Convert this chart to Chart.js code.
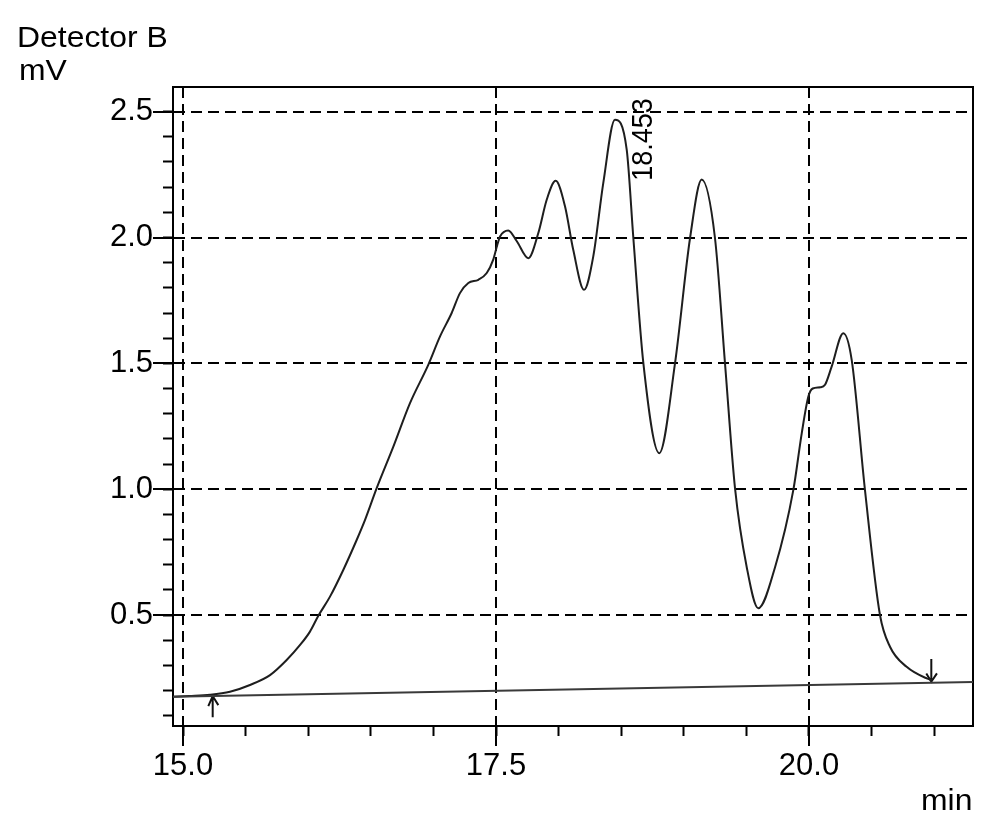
<!DOCTYPE html>
<html>
<head>
<meta charset="utf-8">
<style>
html,body{margin:0;padding:0;background:#fff;}
#wrap{width:999px;height:833px;position:relative;}
</style>
<script src="https://cdn.jsdelivr.net/npm/chart.js@4/dist/chart.umd.min.js"></script>
</head>
<body>
<div id="wrap"><canvas id="c" width="999" height="833"></canvas></div>
<script>
// ---- data ----
const timeMin = [14.92, 15.05, 15.216, 15.375, 15.535, 15.695, 15.828, 15.935, 16.014, 16.081, 16.174, 16.280, 16.387, 16.454, 16.547, 16.680, 16.813, 16.959, 17.053, 17.146, 17.212, 17.279, 17.359, 17.426, 17.478, 17.51, 17.532, 17.598, 17.665, 17.758, 17.838, 17.905, 17.977, 18.051, 18.117, 18.203, 18.277, 18.357, 18.450, 18.544, 18.597, 18.677, 18.804, 18.930, 19.050, 19.143, 19.249, 19.329, 19.409, 19.502, 19.595, 19.73, 19.875, 19.942, 19.995, 20.03, 20.09, 20.128, 20.181, 20.274, 20.341, 20.447, 20.567, 20.647, 20.780, 20.940, 20.980];
const signalMv = [0.175, 0.178, 0.183, 0.195, 0.222, 0.261, 0.321, 0.381, 0.434, 0.497, 0.573, 0.679, 0.798, 0.878, 1.004, 1.169, 1.342, 1.494, 1.607, 1.700, 1.779, 1.819, 1.832, 1.859, 1.912, 1.970, 2.004, 2.028, 1.986, 1.918, 2.018, 2.150, 2.225, 2.124, 1.951, 1.792, 1.925, 2.217, 2.468, 2.349, 1.998, 1.501, 1.143, 1.501, 1.998, 2.230, 1.998, 1.501, 1.004, 0.692, 0.527, 0.692, 0.997, 1.222, 1.368, 1.400, 1.405, 1.415, 1.487, 1.620, 1.514, 0.997, 0.500, 0.374, 0.294, 0.248, 0.242];

const baselineTime = [14.92, 21.31];
const baselineMv = [0.175, 0.234];

// integration start / end markers (arrows)
const startArrowTime = [15.237, 15.237, null, 15.202, 15.237, 15.282];
const startArrowMv   = [0.094, 0.178, null, 0.138, 0.178, 0.142];
const endArrowTime   = [20.977, 20.977, null, 20.937, 20.977, 21.022];
const endArrowMv     = [0.325, 0.235, null, 0.268, 0.235, 0.268];

const peakTime = 18.453;
const peakMv = 2.468;
const peakLabel = '18.453';

const xRange = [14.92, 21.31];
const yRange = [0.059, 2.598];
const xMajorTicks = [15.0, 17.5, 20.0];
const xMinorTicks = [15.0, 15.5, 16.0, 16.5, 17.0, 17.5, 18.0, 18.5, 19.0, 19.5, 20.0, 20.5, 21.0];
const yMajorTicks = [0.5, 1.0, 1.5, 2.0, 2.5];
const yMinorTicks = [0.1, 0.2, 0.3, 0.4, 0.5, 0.6, 0.7, 0.8, 0.9, 1.0, 1.1, 1.2, 1.3, 1.4, 1.5, 1.6, 1.7, 1.8, 1.9, 2.0, 2.1, 2.2, 2.3, 2.4, 2.5];

const yTitleLines = ['Detector B', 'mV'];
const xTitle = 'min';

// ---- build ----
const zip = (xs, ys) => xs.map((x, i) => ({x: x, y: ys[i]}));
const FAMILY = "'Liberation Sans', Arial, Helvetica, sans-serif";
const TICK_FONT = {family: FAMILY, size: 31};
const setTicks = arr => scale => { scale.ticks = arr.map(v => ({value: v})); };

Chart.defaults.color = '#000';
Chart.defaults.font.family = FAMILY;

const textPlugin = {
  id: 'texts',
  afterDraw(chart) {
    const ctx = chart.ctx;
    const put = (txt, x, y) => {
      ctx.save();
      ctx.translate(x, y);
      ctx.scale(1.1, 1);
      ctx.fillText(txt, 0, 0);
      ctx.restore();
    };
    ctx.save();
    ctx.fillStyle = '#000';
    ctx.font = '29px ' + FAMILY;
    ctx.textAlign = 'left';
    ctx.textBaseline = 'alphabetic';
    put(yTitleLines[0], 17, 47);
    put(yTitleLines[1], 19, 80);
    put(xTitle, 921, 810);
    // rotated peak label
    const xs = chart.scales.x, ys = chart.scales.y;
    const px = xs.getPixelForValue(peakTime);
    const py = ys.getPixelForValue(peakMv);
    ctx.translate(px + 37, py + 61);
    ctx.rotate(-Math.PI / 2);
    ctx.scale(1, 1.1);
    ctx.font = '27px ' + FAMILY;
    ctx.fillText(peakLabel, 0, 0);
    ctx.restore();
  }
};

const lineDs = (data, color, width) => ({
  type: 'line', data: data, borderColor: color, borderWidth: width,
  pointRadius: 0, fill: false, spanGaps: false, tension: 0,
  xAxisID: 'x', yAxisID: 'y'
});

new Chart(document.getElementById('c'), {
  type: 'line',
  data: {
    datasets: [
      lineDs(zip(baselineTime, baselineMv), '#3a3a3a', 2),
      Object.assign(lineDs(zip(timeMin, signalMv), '#1e1e1e', 2), {cubicInterpolationMode: 'monotone'}),
      lineDs(zip(startArrowTime, startArrowMv), '#111', 2),
      lineDs(zip(endArrowTime, endArrowMv), '#111', 2)
    ]
  },
  options: {
    responsive: false,
    animation: false,
    devicePixelRatio: 1,
    layout: {padding: {left: 0, top: 87, right: 26, bottom: 0}},
    plugins: {legend: {display: false}, tooltip: {enabled: false}},
    scales: {
      x: {
        type: 'linear', position: 'bottom', min: xRange[0], max: xRange[1], weight: 1,
        afterBuildTicks: setTicks(xMajorTicks),
        afterFit: s => { s.height = 107; },
        grid: {color: '#000', lineWidth: 2, tickLength: 20, tickWidth: 2, tickColor: '#000'},
        border: {display: true, color: '#000', width: 2, dash: [11, 6]},
        ticks: {font: TICK_FONT, color: '#000', padding: 2, maxRotation: 0, autoSkip: false,
                callback: v => Number(v).toFixed(1)}
      },
      xMinor: {
        type: 'linear', position: 'bottom', min: xRange[0], max: xRange[1], weight: 0,
        afterBuildTicks: setTicks(xMinorTicks),
        afterFit: s => { s.height = 0; },
        grid: {drawOnChartArea: false, tickLength: 10, tickWidth: 2, tickColor: '#000', color: '#000'},
        border: {display: false},
        ticks: {display: false}
      },
      xTop: {
        type: 'linear', position: 'top', min: xRange[0], max: xRange[1],
        afterFit: s => { s.height = 0; },
        grid: {display: false},
        border: {display: true, color: '#000', width: 2},
        ticks: {display: false}
      },
      y: {
        type: 'linear', position: 'left', min: yRange[0], max: yRange[1], weight: 1,
        afterBuildTicks: setTicks(yMajorTicks),
        afterFit: s => { s.width = 173; },
        grid: {color: '#000', lineWidth: 2, tickLength: 20, tickWidth: 2, tickColor: '#000'},
        border: {display: true, color: '#000', width: 2, dash: [11, 6]},
        ticks: {font: TICK_FONT, color: '#000', padding: 0, autoSkip: false,
                callback: v => Number(v).toFixed(1)}
      },
      yMinor: {
        type: 'linear', position: 'left', min: yRange[0], max: yRange[1], weight: 0,
        afterBuildTicks: setTicks(yMinorTicks),
        afterFit: s => { s.width = 0; },
        grid: {drawOnChartArea: false, tickLength: 10, tickWidth: 2, tickColor: '#000', color: '#000'},
        border: {display: false},
        ticks: {display: false}
      },
      yRight: {
        type: 'linear', position: 'right', min: yRange[0], max: yRange[1],
        afterFit: s => { s.width = 0; },
        grid: {display: false},
        border: {display: true, color: '#000', width: 2},
        ticks: {display: false}
      }
    }
  },
  plugins: [textPlugin]
});
</script>
</body>
</html>
